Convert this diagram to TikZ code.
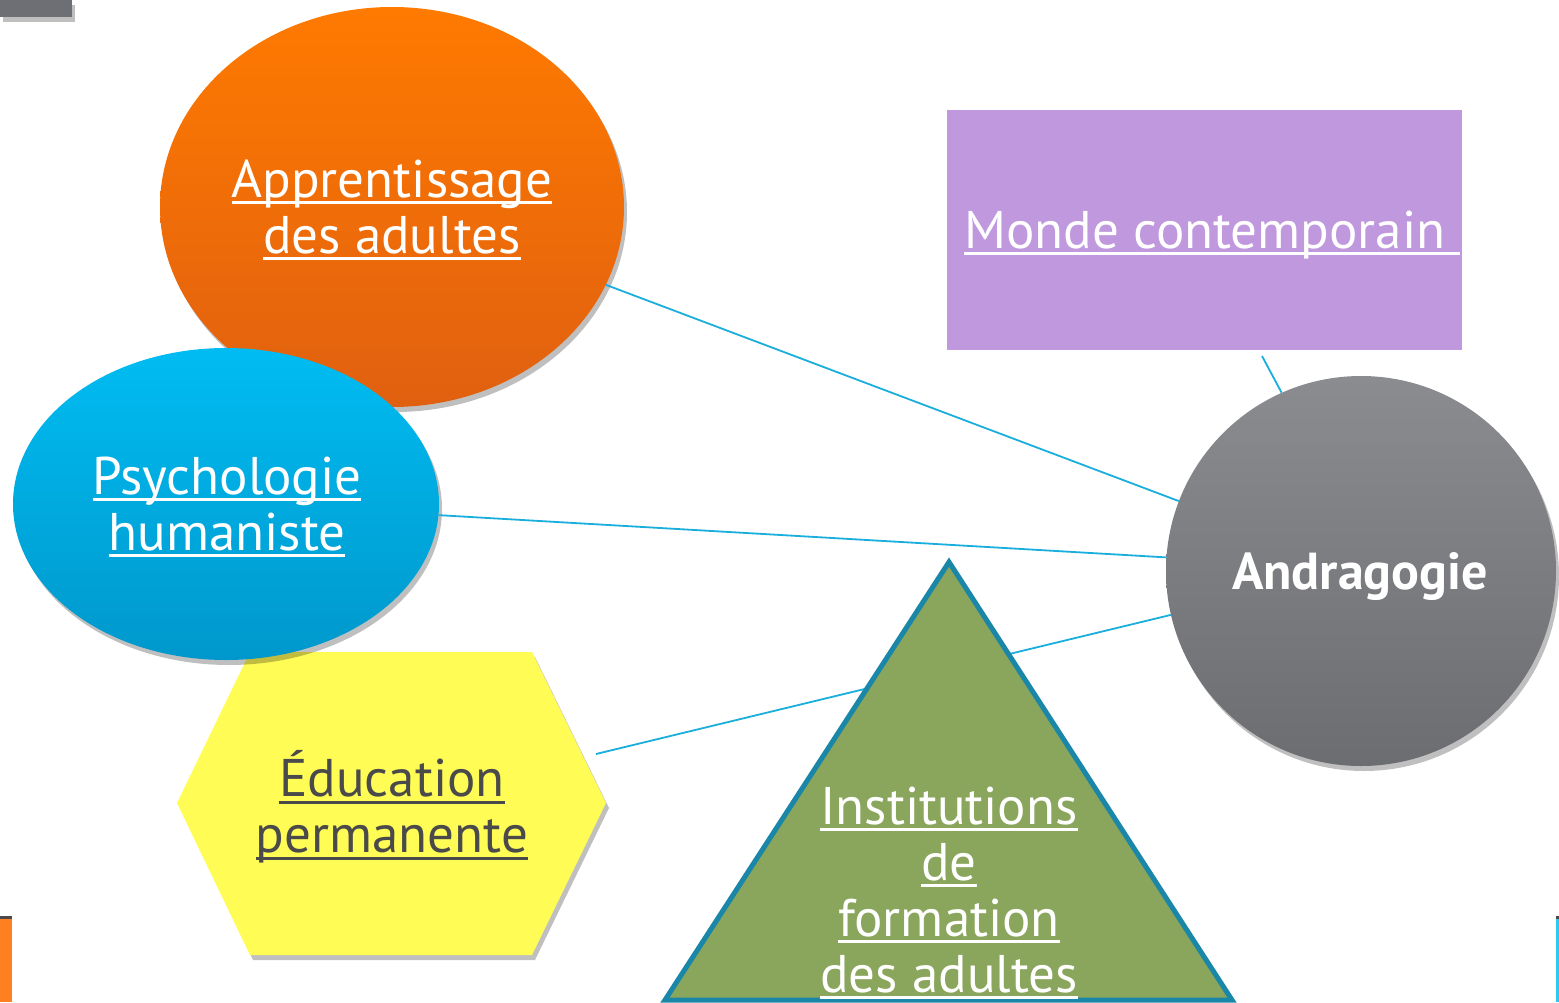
\documentclass[tikz,border=0pt]{standalone}
\usepackage{fontspec}
\setmainfont{PT Sans}
\usetikzlibrary{shapes.geometric,shadows}
\definecolor{orangeT}{HTML}{FF7A00}
\definecolor{orangeB}{HTML}{E06010}
\definecolor{cyanT}{HTML}{00BCF2}
\definecolor{cyanB}{HTML}{0098CC}
\definecolor{grayT}{HTML}{8B8C90}
\definecolor{grayB}{HTML}{6C6D71}
\definecolor{purpleF}{HTML}{C098DE}
\definecolor{yellowF}{HTML}{FFFC55}
\definecolor{greenF}{HTML}{8AA55C}
\definecolor{tealE}{HTML}{1B87A8}
\definecolor{linkC}{HTML}{1AAEDC}
\definecolor{darkT}{HTML}{4A4A4A}
\definecolor{barO}{HTML}{FF8020}
\definecolor{barC}{HTML}{30C8F0}
\definecolor{topG}{HTML}{6E6F74}
\newcommand\myul[1]{\setbox0\hbox{#1}\rlap{\rule[-7pt]{\wd0}{3pt}}\box0}
\tikzset{
  shad/.style={drop shadow={shadow xshift=3pt,shadow yshift=-5pt,opacity=0.25,fill=black}},
  link/.style={draw=linkC,line width=1.8pt},
  lbl/.style={text=white,align=center,font=\fontsize{53}{56}\selectfont,inner sep=0pt},
}
\begin{document}
\begin{tikzpicture}[x=1pt,y=-1pt]
\useasboundingbox (0,0) rectangle (1559,1002);
% decorative bars
\fill[topG,shad] (0,0) rectangle (72,17);
\fill[barO] (0,918) rectangle (12,1002);
\fill[darkT] (0,916) rectangle (12,919);
\fill[barC] (1556,918) rectangle (1559,1002);
\fill[darkT] (1556,916) rectangle (1559,919);
% coordinates
\coordinate (hexR) at (596,754);
\coordinate (rectB) at (1262,356);
% shapes (nodes)
\node[circle,minimum size=390pt,inner sep=0pt,top color=grayT,bottom color=grayB,shad] (andra) at (1361,571) {};
\node[rectangle,minimum width=515pt,minimum height=240pt,inner sep=0pt,fill=purpleF] (monde) at (1204.5,230) {};
% connectors
\draw[link] (rectB) -- (andra.114.9);
\draw[link] (hexR) -- (andra.193.5);
% hexagon
\fill[yellowF,shad] (177,803) -- (250,652) -- (532,652) -- (606,803) -- (532,955) -- (250,955) -- cycle;
\node[ellipse,minimum width=464pt,minimum height=400pt,inner sep=0pt,top color=orangeT,bottom color=orangeB,shad] (appr) at (392,207) {};
\node[ellipse,minimum width=426pt,minimum height=312pt,inner sep=0pt,top color=cyanT,bottom color=cyanB,shad] (psy) at (226,504) {};
\draw[link] (appr.-20.6) -- (andra.159.3);
\draw[link] (psy.-3.5) -- (andra.176.8);
% triangle
\filldraw[fill=greenF,draw=tealE,line width=5pt,line join=miter] (949,562) -- (1232,1000) -- (665,1000) -- cycle;
% labels
\node[lbl] (t1) at (392,210) {\myul{Apprentissage}\\\myul{des adultes}};
\node[lbl] (t2) at (227,507) {\myul{Psychologie}\\\myul{humaniste}};
\node[lbl,text=darkT] (t3) at (392,807) {\myul{Éducation}\\\myul{permanente}};
\node[lbl] (t4) at (949,893) {\myul{Institutions}\\\myul{de}\\\myul{formation}\\\myul{des adultes}};
\node[lbl] (t5) at (1212,235) {\myul{Monde contemporain\ }};
\node[lbl,font=\bfseries\fontsize{52}{56}\selectfont] (t6) at (1360,577) {Andragogie};
\end{tikzpicture}
\end{document}
